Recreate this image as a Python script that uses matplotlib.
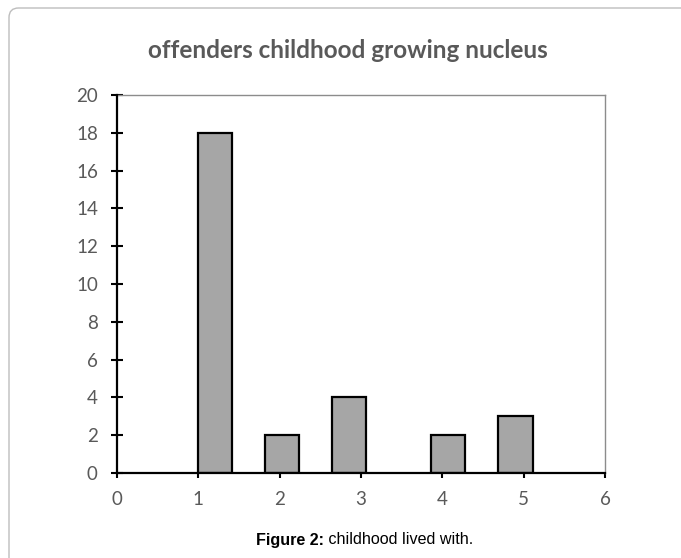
import matplotlib
matplotlib.use("Agg")
import matplotlib.pyplot as plt
from matplotlib.patches import FancyBboxPatch

# Data
x_positions = [1.2, 2.03, 2.85, 4.07, 4.9]
counts = [18, 2, 4, 2, 3]
x_ticks = [0, 1, 2, 3, 4, 5, 6]
y_ticks = list(range(0, 21, 2))
title = "offenders childhood growing nucleus"
caption_bold = "Figure 2:"
caption_rest = " childhood lived with."

W, H = 681, 558
fig = plt.figure(figsize=(W / 100, H / 100), dpi=100)
fig.patch.set_facecolor("white")

# Outer rounded frame
frame = FancyBboxPatch((9 / W, -0.1), 1.2, 1 - 8 / H + 0.1,
                       boxstyle="round,pad=0,rounding_size=0.014",
                       transform=fig.transFigure, facecolor="none",
                       edgecolor="#bdbdbd", linewidth=1.0, mutation_aspect=W / H)
fig.patches.append(frame)

ax = fig.add_axes([117 / W, 1 - 473 / H, (605 - 117) / W, (473 - 95) / H])
ax.bar(x_positions, counts, width=0.42, color="#a6a6a6", edgecolor="black",
       linewidth=1.6, zorder=3)
ax.set_xlim(0, 6)
ax.set_ylim(0, 20)
ax.set_xticks(x_ticks)
ax.set_yticks(y_ticks)

label_color = "#595959"
font = "Lato"
ax.set_xticklabels([str(v) for v in x_ticks], fontfamily=font, fontsize=13.5, color=label_color)
ax.set_yticklabels([str(v) for v in y_ticks], fontfamily=font, fontsize=13.5, color=label_color)

ax.tick_params(axis="y", direction="inout", length=8.6, width=1.5, pad=9.5, colors="black",
               labelcolor=label_color)
ax.tick_params(axis="x", direction="out", length=3.8, width=1.5, pad=9, colors="black",
               labelcolor=label_color)

for s in ["left", "bottom"]:
    ax.spines[s].set_color("black")
    ax.spines[s].set_linewidth(1.6)
    ax.spines[s].set_zorder(4)
for s in ["top", "right"]:
    ax.spines[s].set_color("#8c8c8c")
    ax.spines[s].set_linewidth(1.0)

fig.text(348 / W, 1 - 51 / H, title, ha="center", va="center", fontfamily=font,
         fontweight="bold", fontsize=17.5, color=label_color)

# Caption with bold prefix
renderer = fig.canvas.get_renderer()
t1 = fig.text(0, 1 - 540 / H, caption_bold, ha="left", va="center",
              fontfamily="Liberation Sans", fontweight="bold", fontsize=11.6, color="black")
t2 = fig.text(0, 1 - 540 / H, caption_rest, ha="left", va="center",
              fontfamily="Liberation Sans", fontsize=11.6, color="black")
w1 = t1.get_window_extent(renderer).width
w2 = t2.get_window_extent(renderer).width
start = 364.5 - (w1 + w2) / 2
t1.set_x(start / W)
t2.set_x((start + w1) / W)

fig.savefig("out.png", dpi=100, facecolor="white")
